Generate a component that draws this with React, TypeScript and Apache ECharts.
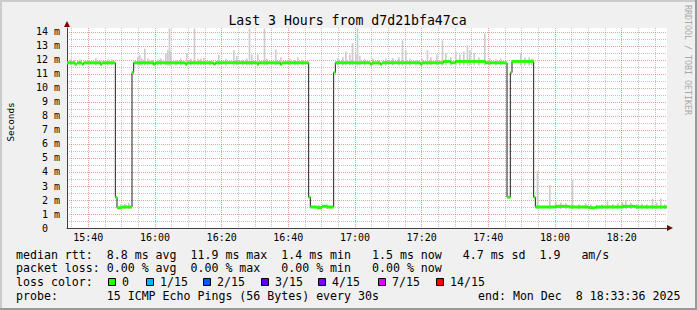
import React, { useEffect, useRef } from 'react';
import * as echarts from 'echarts';

// ---- axis extents (minutes after 15:00, milliseconds) ----
const timeStart = 33.6; // 15:33:36
const timeEnd = 213.6; // 18:33:36
const valueMax = 14.2857;

// ---- ticks ----
const majorTimeTicks = [40, 60, 80, 100, 120, 140, 160, 180, 200];
const minorTimeTicks = [35, 45, 50, 55, 65, 70, 75, 85, 90, 95, 105, 110, 115, 125, 130, 135, 145, 150, 155, 165, 170, 175, 185, 190, 195, 205, 210];
const majorValueTicks = [0, 1, 2, 3, 4, 5, 6, 7, 8, 9, 10, 11, 12, 13, 14];
const minorValueTicks = [0.5, 1.5, 2.5, 3.5, 4.5, 5.5, 6.5, 7.5, 8.5, 9.5, 10.5, 11.5, 12.5, 13.5];

// ---- median rtt (step starts, minutes after 15:00) ----
const medianTime = [33.6, 36.0, 36.6, 38.1, 38.6, 43.6, 44.1, 48.1, 48.6, 50.1, 53.1, 53.6, 59.6, 60.1, 69.1, 69.6, 77.6, 78.1, 90.6, 91.1, 97.6, 98.1, 106.1, 106.6, 108.6, 110.1, 111.6, 113.6, 114.1, 124.6, 125.1, 127.6, 128.1, 139.6, 140.1, 146.6, 148.6, 150.1, 159.1, 165.6, 166.6, 167.1, 173.6, 174.1, 180.1, 184.1, 190.1, 192.1, 200.1, 204.1, 213.6];
const medianMs = [11.8, 11.7, 11.8, 11.7, 11.8, 11.7, 11.8, 2.2, 1.45, 1.5, 11.1, 11.8, 11.7, 11.8, 11.7, 11.8, 11.7, 11.8, 11.7, 11.8, 11.7, 11.8, 2.2, 1.5, 1.45, 1.55, 1.5, 11.1, 11.8, 11.7, 11.8, 11.7, 11.8, 11.7, 11.8, 11.9, 11.8, 11.9, 11.8, 2.2, 11.1, 11.9, 2.2, 1.5, 1.55, 1.5, 1.45, 1.5, 1.55, 1.5, 1.5];

// ---- smoke: [time, lowest ping, highest ping] ----
const smokeSamples = [
  [34.5, 11.6, 12.05], [35.7, 11.6, 12.0], [37.2, 11.6, 12.05], [39.9, 11.6, 12.0], [42.0, 11.6, 12.15], [43.5, 11.6, 12.0], [45.6, 11.6, 12.05], [46.8, 11.6, 12.05],
  [49.5, 1.35, 1.7], [50.7, 1.35, 1.75], [51.9, 1.35, 1.8],
  [54.6, 11.6, 12.2], [55.2, 11.6, 12.35], [55.8, 11.6, 12.1], [56.7, 11.6, 12.8], [57.6, 11.6, 12.1], [59.1, 11.6, 12.0], [60.6, 11.6, 12.05], [61.5, 11.6, 12.1], [63.0, 11.6, 12.5], [63.6, 11.6, 12.7], [64.1, 11.6, 14.25], [64.5, 11.6, 12.6], [66.0, 11.6, 12.0], [67.5, 11.6, 12.1], [69.3, 11.6, 12.5], [70.5, 11.6, 12.1], [71.6, 11.6, 14.25], [72.6, 11.6, 12.1], [73.5, 11.6, 12.1], [74.4, 11.6, 12.15], [76.2, 11.6, 12.0], [78.9, 11.6, 12.35], [81.0, 11.6, 12.1], [83.4, 11.6, 12.7], [84.3, 11.6, 12.3], [86.1, 11.6, 12.0], [87.3, 11.6, 12.1], [88.1, 11.6, 14.25], [88.8, 11.6, 12.4], [90.6, 11.6, 12.4], [92.6, 11.6, 14.25], [93.3, 11.6, 12.1], [96.0, 11.6, 12.75], [97.5, 11.6, 12.2], [100.2, 11.6, 12.1], [101.7, 11.6, 12.0], [102.6, 11.6, 12.2], [104.1, 11.6, 12.0],
  [108.9, 1.35, 1.65], [111.3, 1.35, 1.7],
  [114.6, 11.6, 12.1], [116.1, 11.6, 12.2], [117.0, 11.6, 12.6], [118.2, 11.6, 12.4], [119.0, 11.6, 13.2], [120.0, 11.6, 12.4], [120.5, 11.6, 14.25], [121.2, 11.6, 12.3], [122.7, 11.6, 12.05], [125.1, 11.6, 12.1], [126.9, 11.6, 12.0], [129.0, 11.6, 12.1], [131.1, 11.6, 12.15], [132.9, 11.6, 12.2], [134.0, 11.6, 13.4], [135.0, 11.6, 12.7], [136.2, 11.6, 12.1], [138.0, 11.6, 12.0], [139.8, 11.6, 12.1], [141.5, 11.6, 12.7], [142.5, 11.6, 12.2], [144.3, 11.6, 12.4], [146.0, 11.6, 13.4], [147.0, 11.6, 12.5], [148.5, 11.6, 12.2], [150.0, 11.6, 12.6], [151.2, 11.6, 12.4], [152.4, 11.6, 12.6], [153.5, 11.6, 13.05], [154.2, 11.6, 12.7], [155.5, 11.6, 12.5], [156.9, 11.6, 12.2], [158.7, 11.6, 13.9], [160.2, 11.6, 12.1], [162.0, 11.6, 12.05], [163.5, 11.6, 12.1], [169.5, 11.6, 12.5], [170.7, 11.6, 12.2], [172.0, 11.6, 12.2], [172.8, 11.6, 12.1],
  [174.5, 1.35, 4.07], [178.2, 1.35, 3.07], [180.0, 1.35, 1.9], [181.5, 1.35, 1.8], [183.0, 1.35, 1.75], [185.0, 1.35, 3.43], [186.9, 1.35, 1.7], [189.0, 1.35, 1.75], [190.5, 1.35, 1.7], [192.3, 1.35, 1.65], [193.8, 1.35, 1.7], [195.5, 1.35, 1.9], [197.1, 1.35, 1.7], [198.6, 1.35, 1.75], [200.0, 1.35, 1.85], [201.0, 1.35, 2.0], [202.5, 1.35, 1.8], [204.3, 1.35, 1.7], [205.8, 1.35, 1.75], [207.3, 1.35, 1.7], [209.0, 1.35, 2.1], [210.3, 1.35, 1.8], [211.5, 1.35, 2.1], [212.7, 1.35, 1.7],
];
const stepMinutes = 0.5;

// ---- texts ----
const titleText = 'Last 3 Hours from d7d21bfa47ca';
const yAxisTitle = 'Seconds';
const watermark = 'RRDTOOL / TOBI OETIKER';
const legendRtt = 'median rtt:  8.8 ms avg  11.9 ms max  1.4 ms min   1.5 ms now   4.7 ms sd  1.9   am/s';
const legendLoss = 'packet loss: 0.00 % avg  0.00 % max   0.00 % min   0.00 % now';
const legendLossColorLabel = 'loss color:';
const lossColorNames = ['0', '1/15', '2/15', '3/15', '4/15', '7/15', '14/15'];
const lossColors = ['#26ff00', '#00b8ff', '#0059ff', '#5e00ff', '#7e00ff', '#dd00ff', '#ff0000'];
const legendProbe = 'probe:       15 ICMP Echo Pings (56 Bytes) every 30s';
const legendEnd = 'end: Mon Dec  8 18:33:36 2025';

const MONO = '"DejaVu Sans Mono", monospace';

function fmtTime(v: number) {
  const h = 15 + Math.floor(v / 60);
  const m = Math.round(v % 60);
  return `${h}:${m < 10 ? '0' + m : m}`;
}

export default function App() {
  const ref = useRef<HTMLDivElement>(null);
  useEffect(() => {
    document.body.style.margin = '0';
    const chart = echarts.init(ref.current!, null, { renderer: 'svg' });

    const boxX = [108, 146, 203, 261, 318, 378, 436];
    const legendRowY = [254.5, 268.3, 282.2, 296];
    const lossGraphics: any[] = [];
    lossColorNames.forEach((name, i) => {
      lossGraphics.push({
        type: 'rect', shape: { x: boxX[i] + 0.5, y: 278.5, width: 7, height: 7 },
        style: { fill: lossColors[i], stroke: '#000', lineWidth: 1 },
      });
      lossGraphics.push({
        type: 'text', x: boxX[i] + 14, y: legendRowY[2],
        style: { text: name, fontFamily: MONO, fontSize: 11.6, fill: '#000', align: 'left', verticalAlign: 'middle' },
      });
    });

    const textStyle = (text: string) => ({ text, fontFamily: MONO, fontSize: 11.6, fill: '#000', align: 'left', verticalAlign: 'middle' });

    const option: any = {
      animation: false,
      backgroundColor: '#f0f0f0',
      grid: { left: 67, top: 28, width: 600, height: 200, show: true, backgroundColor: '#ffffff', borderWidth: 0 },
      xAxis: [
        {
          type: 'value', min: timeStart, max: timeEnd, position: 'bottom', z: 3,
          axisLine: { show: true, onZero: false, lineStyle: { color: '#404040', width: 1 } },
          axisTick: { show: false, customValues: majorTimeTicks },
          axisLabel: { customValues: majorTimeTicks, formatter: fmtTime, fontFamily: MONO, fontSize: 10, color: '#000', margin: 4 },
          splitLine: { show: true, lineStyle: { color: 'rgba(222,79,79,0.55)', type: [1, 1], width: 1 } },
        },
        {
          type: 'value', min: timeStart, max: timeEnd, position: 'top', z: 1,
          axisLine: { show: false }, axisTick: { show: false, customValues: minorTimeTicks }, axisLabel: { show: false },
          splitLine: { show: true, lineStyle: { color: '#c4c4c4', type: [1, 1], width: 1 } },
        },
      ],
      yAxis: [
        {
          type: 'value', min: 0, max: valueMax, position: 'left', z: 3,
          axisLine: { show: true, onZero: false, lineStyle: { color: '#404040', width: 1 } },
          axisTick: { show: false, customValues: majorValueTicks },
          axisLabel: {
            customValues: majorValueTicks, fontFamily: MONO, fontSize: 10, color: '#000', margin: 7,
            formatter: (v: number) => (v === 0 ? '{z|0}' : `${v} m`),
            rich: { z: { fontFamily: MONO, fontSize: 10, color: '#000', padding: [0, 12, 0, 0] } },
          },
          splitLine: { show: true, lineStyle: { color: 'rgba(222,79,79,0.55)', type: [1, 1], width: 1 } },
        },
        {
          type: 'value', min: 0, max: valueMax, position: 'right', z: 1,
          axisLine: { show: false }, axisTick: { show: false, customValues: minorValueTicks }, axisLabel: { show: false },
          splitLine: { show: true, lineStyle: { color: '#c4c4c4', type: [1, 1], width: 1 } },
        },
      ],
      series: [
        {
          type: 'custom', name: 'smoke', xAxisIndex: 0, yAxisIndex: 0, z: 4, silent: true, clip: true,
          data: smokeSamples,
          encode: { x: 0, y: [1, 2] },
          renderItem: (params: any, api: any) => {
            const t = api.value(0), lo = api.value(1), hi = api.value(2);
            const p1 = api.coord([t, hi]);
            const p2 = api.coord([t + stepMinutes, lo]);
            return { type: 'rect', shape: { x: p1[0], y: p1[1], width: p2[0] - p1[0], height: p2[1] - p1[1] }, style: { fill: '#cccccc' } };
          },
        },
        {
          type: 'line', name: 'median', xAxisIndex: 0, yAxisIndex: 0, z: 5, silent: true,
          step: 'end', showSymbol: false, symbol: 'none',
          data: medianTime.map((t, i) => [t, medianMs[i]]),
          lineStyle: { color: '#202020', width: 1 },
        },
        {
          type: 'custom', name: 'loss0', xAxisIndex: 0, yAxisIndex: 0, z: 6, silent: true, clip: true,
          data: medianTime.slice(0, -1).map((t, i) => [t, medianTime[i + 1], medianMs[i]]),
          encode: { x: [0, 1], y: 2 },
          renderItem: (params: any, api: any) => {
            const a = api.coord([api.value(0), api.value(2)]);
            const b = api.coord([api.value(1), api.value(2)]);
            return { type: 'rect', shape: { x: a[0], y: a[1] - 1.5, width: b[0] - a[0], height: 3 }, style: { fill: lossColors[0] } };
          },
        },
      ],
      graphic: [
        { type: 'rect', shape: { x: 0, y: 0, width: 697, height: 2 }, style: { fill: '#cbcbcb' } },
        { type: 'rect', shape: { x: 0, y: 0, width: 2, height: 310 }, style: { fill: '#cbcbcb' } },
        { type: 'rect', shape: { x: 695, y: 0, width: 2, height: 310 }, style: { fill: '#999999' } },
        { type: 'rect', shape: { x: 0, y: 308, width: 697, height: 2 }, style: { fill: '#999999' } },
        { type: 'polygon', shape: { points: [[64, 27], [70, 27], [67, 21]] }, style: { fill: '#7f0000' } },
        { type: 'polygon', shape: { points: [[667, 225], [667, 231], [673, 228]] }, style: { fill: '#7f0000' } },
        { type: 'text', x: 347.5, y: 20, style: { text: titleText, fontFamily: MONO, fontSize: 13.2, fill: '#000', align: 'center', verticalAlign: 'middle' } },
        { type: 'text', x: 10.5, y: 122, rotation: Math.PI / 2, style: { text: yAxisTitle, fontFamily: MONO, fontSize: 9.3, fill: '#000', align: 'center', verticalAlign: 'middle' } },
        { type: 'text', x: 688, y: 60, rotation: -Math.PI / 2, style: { text: watermark, fontFamily: MONO, fontSize: 8.3, fill: '#a8a8a8', align: 'center', verticalAlign: 'middle' } },
        { type: 'text', x: 16, y: legendRowY[0], style: textStyle(legendRtt) },
        { type: 'text', x: 16, y: legendRowY[1], style: textStyle(legendLoss) },
        { type: 'text', x: 16, y: legendRowY[2], style: textStyle(legendLossColorLabel) },
        ...lossGraphics,
        { type: 'text', x: 16, y: legendRowY[3], style: textStyle(legendProbe) },
        { type: 'text', x: 478, y: legendRowY[3], style: textStyle(legendEnd) },
      ],
    };
    chart.setOption(option);
    return () => chart.dispose();
  }, []);
  return <div ref={ref} style={{ width: 697, height: 310 }} />;
}
